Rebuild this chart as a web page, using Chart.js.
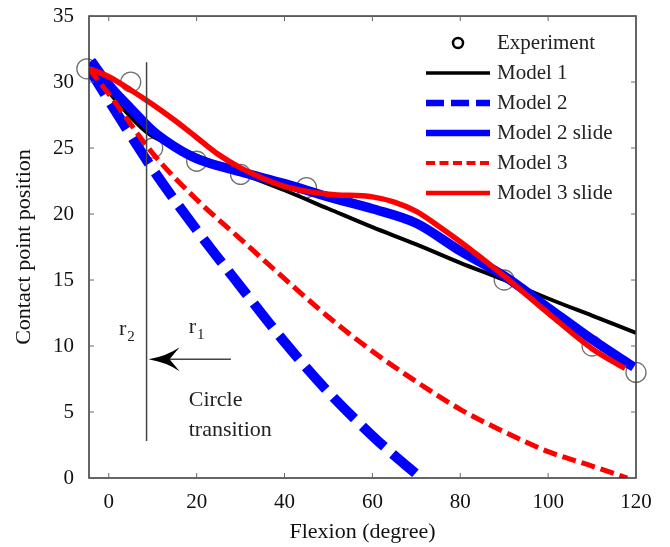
<!DOCTYPE html>
<html>
<head>
<meta charset="utf-8">
<script src="https://cdn.jsdelivr.net/npm/chart.js@4.4.1/dist/chart.umd.min.js"></script>
<style>
  html, body { margin: 0; padding: 0; background: #fff; }
  #wrap { width: 670px; height: 547px; }
</style>
</head>
<body>
<div id="wrap"><canvas id="grafica"></canvas></div>
<script>
// datos
const expX = [-5, 5, 10, 20, 30, 45, 90, 110, 120];
const expY = [31, 30, 25, 24, 23, 22, 15, 10, 8];

const m1X = [-4.5, 8.6, 16, 30, 40, 50, 60, 70, 80, 90, 100, 110, 120];
const m1Y = [31, 26.2, 25.0, 23.1, 21.8, 20.4, 19.0, 17.7, 16.3, 15.0, 13.6, 12.3, 11.0];

const m2X = [-4.5, 0, 10, 20, 30, 40, 50, 60, 65, 70, 71];
const m2Y = [31, 28.6, 23.4, 18.8, 14.5, 10.3, 6.5, 3.2, 1.7, 0.3, 0];

const m2sX = [-4, 0, 5, 10, 15, 20, 30, 40, 50, 60, 70, 80, 90, 100, 110, 119.5];
const m2sY = [31.6, 29.8, 28.0, 26.3, 25.1, 24.2, 23.2, 22.3, 21.3, 20.4, 19.3, 17.2, 15.3, 12.9, 10.5, 8.4];

const m3X = [-4.5, 0, 10, 20, 30, 40, 50, 60, 70, 80, 90, 100, 110, 118];
const m3Y = [31, 29.1, 24.6, 21.1, 18.1, 15.1, 12.2, 9.6, 7.3, 5.2, 3.5, 2.0, 0.9, 0];

const m3sX = [-4.3, 0, 5, 10, 15, 20, 25, 30, 40, 50, 60, 65, 70, 75, 80, 90, 100, 110, 117.5];
const m3sY = [31, 30.4, 29.4, 28.3, 27.1, 25.8, 24.5, 23.5, 22.1, 21.5, 21.3, 20.9, 20.2, 19.1, 17.9, 15.3, 12.5, 9.8, 8.3];

const xTicks = [0, 20, 40, 60, 80, 100, 120];
const yTicks = [0, 5, 10, 15, 20, 25, 30, 35];

// anotacion: linea de transicion y flecha (en unidades de datos)
const transX = 8.6;
const transY = [2.8, 31.5];
const flechaX = [27.8, 8.6];
const flechaY = 9;

const serif = "'Liberation Serif', 'Times New Roman', serif";

const pts = (xs, ys) => xs.map((x, i) => ({ x, y: ys[i] }));

const linea = (label, xs, ys, color, width, dash, order, legW, legDash) => ({
  label,
  data: pts(xs, ys),
  borderColor: color,
  backgroundColor: color,
  borderWidth: width,
  borderDash: dash,
  pointRadius: 0,
  cubicInterpolationMode: "monotone",
  fill: false,
  order,
  legW,
  legDash
});

const datasets = [
  {
    label: "Experiment",
    type: "scatter",
    data: pts(expX, expY),
    pointRadius: 10,
    pointBorderWidth: 1.3,
    pointBorderColor: "#707070",
    pointBackgroundColor: "rgba(0,0,0,0)",
    showLine: false,
    clip: false,
    order: 10
  },
  linea("Model 1", m1X, m1Y, "#000000", 4, [], 6, 3.5, []),
  linea("Model 2", m2X, m2Y, "#0000ff", 10, [30, 11], 5, 6.5, [18, 7]),
  linea("Model 2 slide", m2sX, m2sY, "#0000ff", 9.5, [], 4, 6.5, []),
  linea("Model 3", m3X, m3Y, "#ff0000", 5, [14, 6], 3, 4, [9, 4.5]),
  linea("Model 3 slide", m3sX, m3sY, "#ff0000", 5.5, [], 2, 4.5, [])
];

const marco = {
  id: "marco",
  afterDatasetsDraw(chart) {
    const { ctx, chartArea: a, scales: { x, y } } = chart;
    ctx.save();

    // caja y marcas hacia adentro
    ctx.strokeStyle = "#333";
    ctx.lineWidth = 1.5;
    ctx.strokeRect(a.left, a.top, a.right - a.left, a.bottom - a.top);
    ctx.lineWidth = 1;
    ctx.strokeStyle = "#666";
    ctx.beginPath();
    xTicks.forEach(v => {
      const px = x.getPixelForValue(v);
      ctx.moveTo(px, a.bottom); ctx.lineTo(px, a.bottom - 5);
      ctx.moveTo(px, a.top); ctx.lineTo(px, a.top + 5);
    });
    yTicks.forEach(v => {
      const py = y.getPixelForValue(v);
      ctx.moveTo(a.left, py); ctx.lineTo(a.left + 5, py);
      ctx.moveTo(a.right, py); ctx.lineTo(a.right - 5, py);
    });
    ctx.stroke();

    // linea de transicion
    const tx = x.getPixelForValue(transX);
    ctx.strokeStyle = "#444";
    ctx.lineWidth = 1.5;
    ctx.beginPath();
    ctx.moveTo(tx, y.getPixelForValue(transY[0]));
    ctx.lineTo(tx, y.getPixelForValue(transY[1]));
    ctx.stroke();

    // flecha
    const fy = y.getPixelForValue(flechaY);
    const fx0 = x.getPixelForValue(flechaX[0]);
    const fx1 = x.getPixelForValue(flechaX[1]) + 2;
    ctx.beginPath();
    ctx.moveTo(fx0, fy);
    ctx.lineTo(fx1 + 20, fy);
    ctx.stroke();
    ctx.fillStyle = "#000";
    ctx.beginPath();
    ctx.moveTo(fx1, fy);
    ctx.quadraticCurveTo(fx1 + 18, fy - 3, fx1 + 31, fy - 12);
    ctx.lineTo(fx1 + 21, fy);
    ctx.lineTo(fx1 + 31, fy + 12);
    ctx.quadraticCurveTo(fx1 + 18, fy + 3, fx1, fy);
    ctx.fill();

    // textos de la anotacion
    ctx.fillStyle = "#222";
    ctx.textBaseline = "alphabetic";
    const sub = (base, s, vx, vy) => {
      const px = x.getPixelForValue(vx), py = y.getPixelForValue(vy);
      ctx.font = "22px " + serif;
      ctx.fillText(base, px, py);
      const w = ctx.measureText(base).width;
      ctx.font = "15px " + serif;
      ctx.fillText(s, px + w + 1, py + 6);
    };
    sub("r", "2", 2.3, 10.8);
    sub("r", "1", 18.2, 11.0);
    ctx.font = "22px " + serif;
    ctx.textBaseline = "middle";
    ctx.fillText("Circle", x.getPixelForValue(18.2), y.getPixelForValue(5.9));
    ctx.fillText("transition", x.getPixelForValue(18.2), y.getPixelForValue(3.6));

    // leyenda
    const lx0 = 426, lx1 = 490, tx0 = 497;
    chart.data.datasets.forEach((d, i) => {
      const ly = 43 + i * 30;
      if (d.type === "scatter") {
        ctx.strokeStyle = "#000";
        ctx.lineWidth = 2.5;
        ctx.beginPath();
        ctx.arc((lx0 + lx1) / 2, ly, 5, 0, Math.PI * 2);
        ctx.stroke();
      } else {
        ctx.strokeStyle = d.borderColor;
        ctx.lineWidth = d.legW;
        ctx.setLineDash(d.legDash);
        ctx.beginPath();
        ctx.moveTo(lx0, ly);
        ctx.lineTo(lx1, ly);
        ctx.stroke();
        ctx.setLineDash([]);
      }
      ctx.fillStyle = "#222";
      ctx.font = "21px " + serif;
      ctx.textBaseline = "middle";
      ctx.fillText(d.label, tx0, ly);
    });

    ctx.restore();
  }
};

new Chart(document.getElementById("grafica"), {
  type: "line",
  data: { datasets },
  options: {
    responsive: true,
    maintainAspectRatio: false,
    animation: false,
    layout: { padding: { top: 4, right: 34, left: 0, bottom: 0 } },
    plugins: { legend: { display: false }, tooltip: { enabled: false } },
    scales: {
      x: {
        type: "linear",
        min: -4.5,
        max: 120,
        grid: { display: false, drawTicks: false },
        border: { display: false },
        afterBuildTicks: s => { s.ticks = xTicks.map(v => ({ value: v })); },
        afterFit: s => { s.height = 69; },
        ticks: { color: "#111", padding: 12, maxRotation: 0, font: { family: serif, size: 21 } },
        title: { display: true, text: "Flexion (degree)", color: "#111", padding: { top: 0, bottom: 2 }, font: { family: serif, size: 22 } }
      },
      y: {
        min: 0,
        max: 35,
        grid: { display: false, drawTicks: false },
        border: { display: false },
        afterBuildTicks: s => { s.ticks = yTicks.map(v => ({ value: v })); },
        afterFit: s => { s.width = 89; },
        ticks: { color: "#111", padding: 15, font: { family: serif, size: 21, lineHeight: 0.1 } },
        title: { display: true, text: "Contact point position", color: "#111", padding: { top: 11, bottom: 0 }, font: { family: serif, size: 22 } }
      }
    }
  },
  plugins: [marco]
});
</script>
</body>
</html>
